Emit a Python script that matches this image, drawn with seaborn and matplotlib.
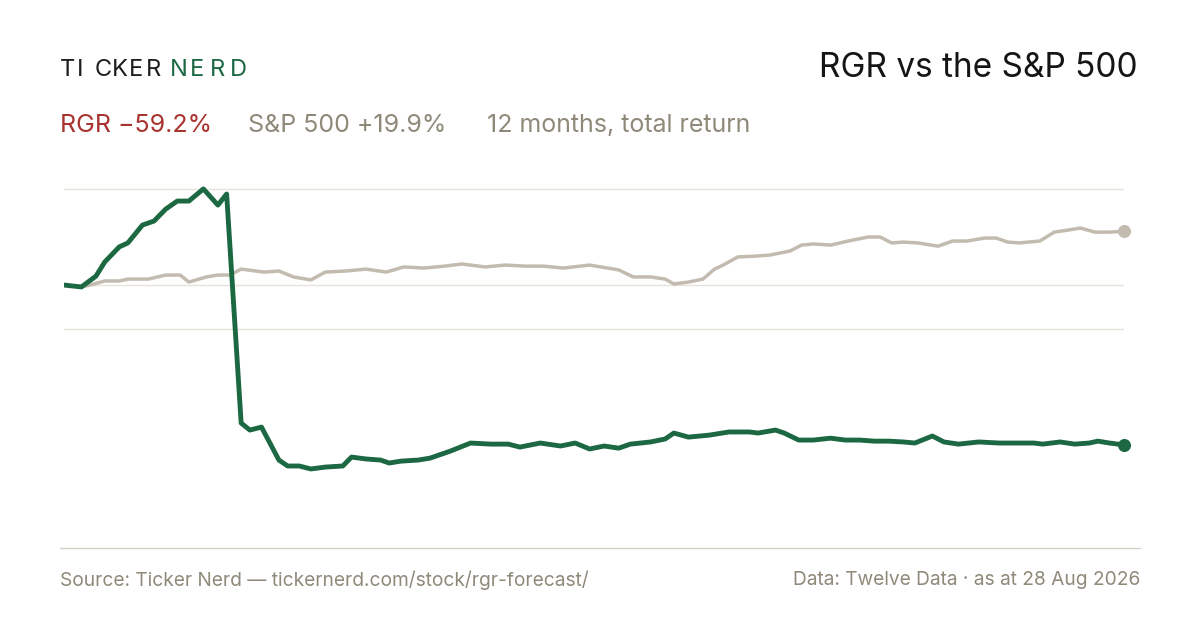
import matplotlib
matplotlib.use("Agg")
import matplotlib.pyplot as plt
import seaborn as sns
import pandas as pd

rgr_days = [0,6,11,14,19,22,27,31,35,39,43,48,53,56,61,64,68,74,77,81,85,90,96,99,104,109,112,116,122,126,133,140,147,153,157,164,171,176,181,186,191,195,202,207,210,215,222,229,236,239,245,248,253,258,264,269,274,279,284,289,293,299,303,308,315,322,327,334,337,343,348,353,356,360,365]
rgr_ret = [0.0,-0.7,3.3,8.5,14.1,15.6,22.2,23.7,28.1,31.1,31.1,35.6,29.6,33.7,-51.1,-53.7,-52.6,-64.8,-67.0,-67.0,-68.1,-67.4,-67.0,-63.7,-64.4,-64.8,-65.9,-65.2,-64.8,-64.1,-61.5,-58.5,-58.9,-58.9,-60.0,-58.5,-59.6,-58.5,-60.7,-59.6,-60.4,-58.9,-58.1,-57.0,-54.8,-56.3,-55.6,-54.4,-54.4,-54.8,-53.7,-54.8,-57.4,-57.4,-56.7,-57.4,-57.4,-57.8,-57.8,-58.1,-58.5,-55.9,-58.1,-58.9,-58.1,-58.5,-58.5,-58.5,-58.9,-58.1,-58.9,-58.5,-57.8,-58.5,-59.2]
spx_days = [0,6,9,14,19,22,29,35,40,43,49,53,57,61,66,69,74,79,85,90,97,104,111,117,124,131,137,145,152,159,165,172,181,191,196,202,207,210,215,220,224,227,232,238,243,250,254,258,264,270,277,281,285,289,294,301,306,311,317,321,325,329,336,341,346,350,355,360,365]
spx_ret = [0,-0.7,0,1.5,1.5,2.2,2.2,3.7,3.7,1.1,3.0,3.7,3.7,5.9,5.2,4.8,5.2,3.0,1.9,4.8,5.2,5.9,4.8,6.7,6.3,7.0,7.8,6.7,7.4,7.0,7.0,6.3,7.4,5.6,3.0,3.0,2.2,0.4,1.1,2.2,5.9,7.4,10.4,10.7,11.1,12.6,14.8,15.2,14.8,16.3,17.8,17.8,15.6,15.9,15.6,14.4,16.3,16.3,17.4,17.4,15.9,15.6,16.3,19.6,20.4,21.1,19.6,19.6,19.9]
grid_vals = [35.5, 0, -16.3]

GREEN = "#1b6842"; GRAYL = "#c3bbaf"; GRAYT = "#8f897a"; RED = "#a8322d"

sns.set_theme(style="white")
plt.rcParams['font.family'] = ['Inter', 'DejaVu Sans']
fig = plt.figure(figsize=(12, 6.3), dpi=100)
ax = fig.add_axes([64/1200, 1-530/630, 1060/1200, 360/630])
for g in grid_vals:
    ax.axhline(g, color="#e6e3dc", lw=1, zorder=0)
d1 = pd.DataFrame({"day": spx_days, "ret": spx_ret})
d2 = pd.DataFrame({"day": rgr_days, "ret": rgr_ret})
sns.lineplot(data=d1, x="day", y="ret", ax=ax, color=GRAYL, lw=2.5)
sns.lineplot(data=d2, x="day", y="ret", ax=ax, color=GREEN, lw=3.5)
ax.scatter([spx_days[-1]], [spx_ret[-1]], color=GRAYL, s=70, zorder=5, clip_on=False)
ax.scatter([rgr_days[-1]], [rgr_ret[-1]], color=GREEN, s=70, zorder=5, clip_on=False)
ax.set_xlim(0, 365); ax.set_ylim(-90.7, 42.6)
ax.axis("off")

fig.add_artist(plt.Line2D([60/1200, 1140/1200], [1-548/630]*2, color="#d6d2c8", lw=1))
for i, ch in enumerate("TICKER"):
    fig.text((60 + i*17.2)/1200, 1-70/630, ch, fontsize=17, color="#1e1e1e", va="center", ha="left")
for i, ch in enumerate("NERD"):
    fig.text((170 + i*20)/1200, 1-70/630, ch, fontsize=17, color=GREEN, va="center", ha="left")
fig.text(1138/1200, 1-68/630, "RGR vs the S&P 500", fontsize=24, color="#151515", va="center", ha="right")
fig.text(60/1200, 1-125/630, "RGR −59.2%", fontsize=18, color=RED, va="center")
fig.text(248/1200, 1-125/630, "S&P 500 +19.9%", fontsize=18, color=GRAYT, va="center")
fig.text(487/1200, 1-125/630, "12 months, total return", fontsize=18, color=GRAYT, va="center")
fig.text(60/1200, 1-580/630, "Source: Ticker Nerd — tickernerd.com/stock/rgr-forecast/", fontsize=13.8, color=GRAYT, va="center")
fig.text(1140/1200, 1-580/630, "Data: Twelve Data · as at 28 Aug 2026", fontsize=13.8, color=GRAYT, va="center", ha="right")
fig.savefig("out.png", dpi=100, facecolor="white")
